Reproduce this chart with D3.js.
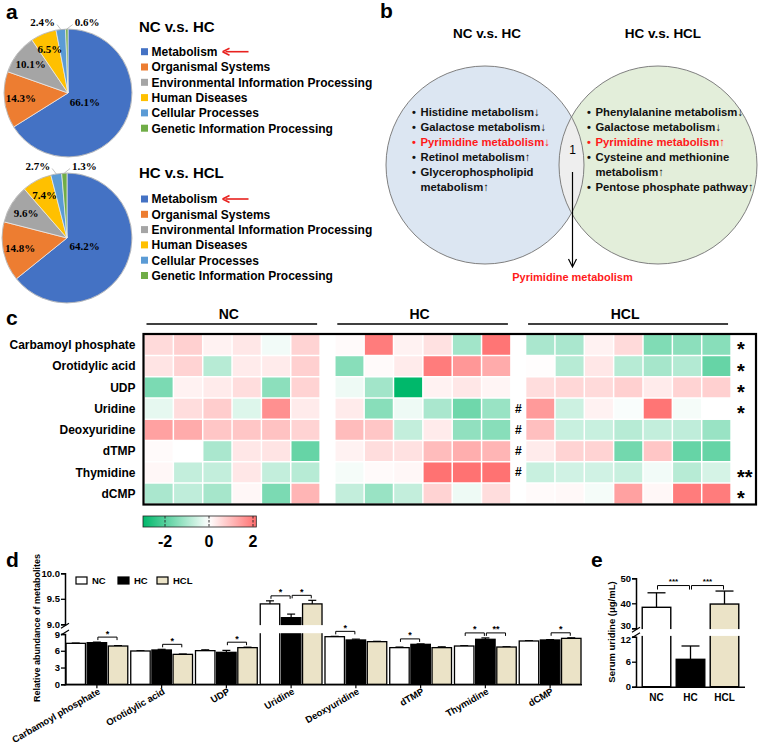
<!DOCTYPE html>
<html><head><meta charset="utf-8">
<script src="https://cdn.jsdelivr.net/npm/d3@7"></script>
<style>
body{margin:0;background:#fff;}
svg{display:block;font-family:Arial,"Liberation Sans",sans-serif;}
</style></head><body>
<svg id="chart" width="763" height="750"></svg>
<script>
// ---------------- DATA ----------------
const pieCategories = ["Metabolism","Organismal Systems","Environmental Information Processing","Human Diseases","Cellular Processes","Genetic Information Processing"];
const pieColors = ["#4472c4","#ed7d31","#a5a5a5","#ffc000","#5b9bd5","#70ad47"];
const pieNCvsHC = [66.1,14.3,10.1,6.5,2.4,0.6];
const pieHCvsHCL = [64.2,14.8,9.6,7.4,2.7,1.3];
const pieTitles = ["NC v.s. HC","HC v.s. HCL"];

const vennTitles = ["NC v.s. HC","HC v.s. HCL"];
const vennLeftLines = [["Histidine metabolism↓",true,false],["Galactose metabolism↓",true,false],["Pyrimidine metabolism↓",true,true],["Retinol metabolism↑",true,false],["Glycerophospholipid",true,false],["metabolism↑",false,false]];
const vennRightLines = [["Phenylalanine metabolism↓",true,false],["Galactose metabolism↓",true,false],["Pyrimidine metabolism↑",true,true],["Cysteine and methionine",true,false],["metabolism↑",false,false],["Pentose phosphate pathway↑",true,false]];
const vennShared = "1";
const vennSharedName = "Pyrimidine metabolism";

const heatRows = ["Carbamoyl phosphate","Orotidylic acid","UDP","Uridine","Deoxyuridine","dTMP","Thymidine","dCMP"];
const heatGroups = ["NC","HC","HCL"];
const heatNC = [
 [0.55,0.7,0.2,0.35,-0.15,0.65],
 [0.4,0.65,-0.85,0.3,0.3,0.7],
 [-1.55,0.2,0.3,0.5,-1.35,0.65],
 [-0.3,0.5,0.75,-0.4,1.65,0.3],
 [1.4,1.25,0.85,0.85,0.9,0.65],
 [0.07,0,-1.0,0.35,0.4,-1.8],
 [0.12,-0.7,-0.7,0.35,-0.7,-0.85],
 [-1.0,-0.75,-1.05,0.12,-1.55,1.1]
];
const heatHC = [
 [0.07,1.95,0.2,0.45,-1.1,2.05],
 [-1.4,0.07,0.3,1.95,1.55,1.25],
 [-0.2,-1.1,-3.0,0.2,0.35,0.15],
 [0.3,-1.4,-0.2,-1.0,-1.7,-1.2],
 [1.0,0.85,-0.7,0.3,-1.3,-1.4],
 [0.2,0.5,0.45,1.0,1.2,1.1],
 [-0.12,0.07,0.12,2.1,2.1,2.1],
 [-0.7,-1.2,-0.7,0.65,-0.2,0.5]
];
const heatHCL = [
 [-1.0,-1.0,0.2,0.55,-1.5,-1.35,-1.4],
 [0.03,-0.85,0.35,-0.85,-1.05,-0.9,-1.8],
 [0.5,0.6,0.55,0.7,0.3,0.65,0.7],
 [1.5,-0.6,0.2,-0.07,2.05,-0.12,0],
 [0.95,-0.65,-0.65,-0.85,-0.7,-0.75,-1.2],
 [0.3,0.65,0.65,-1.65,0.85,-1.8,-1.8],
 [-0.65,-0.55,-0.55,-0.65,-0.15,-0.85,-0.5],
 [0.07,0.1,-0.12,1.4,0.12,1.95,1.95]
];
const heatHash = ["","","","#","#","#","#",""];
const heatStars = ["*","*","*","*","","","**","*"];
const colorTicks = [-2,0,2];

const barMetabolites = ["Carbamoyl phosphate","Orotidylic acid","UDP","Uridine","Deoxyuridine","dTMP","Thymidine","dCMP"];
const barGroups = ["NC","HC","HCL"];
const barNC  = [7.33,5.96,6.02,9.40,8.52,6.56,6.85,7.75];
const barHC  = [7.45,6.14,5.72,9.13,7.93,7.15,8.05,7.93];
const barHCL = [6.85,5.36,6.56,9.40,7.63,6.56,6.67,8.22];
const errNC  = [0.05,0.05,0.15,0.06,0.06,0.10,0.06,0.06];
const errHC  = [0.10,0.12,0.35,0.07,0.15,0.08,0.25,0.07];
const errHCL = [0.08,0.06,0.08,0.07,0.06,0.15,0.05,0.10];
const barSig = [
 ["Carbamoyl phosphate","HC","HCL","*"],
 ["Orotidylic acid","HC","HCL","*"],
 ["UDP","HC","HCL","*"],
 ["Uridine","NC","HC","*"],
 ["Uridine","HC","HCL","*"],
 ["Deoxyuridine","NC","HC","*"],
 ["dTMP","NC","HC","*"],
 ["Thymidine","NC","HC","*"],
 ["Thymidine","HC","HCL","**"],
 ["dCMP","HC","HCL","*"]
];
const barTicksLow = [0,3,6,9];
const barTicksHigh = [9.0,9.5,10.0];

const serumGroups = ["NC","HC","HCL"];
const serumMeans = [38.4,6.57,39.7];
const serumErr = [5.8,3.2,5.2];
const serumSig = [["NC","HC","***"],["HC","HCL","***"]];
const serumTicksLow = [0,6,12];
const serumTicksHigh = [30,40,50];

const groupFill = {NC:"#ffffff", HC:"#000000", HCL:"#ebe3c7"};

// ---------------- DRAW ----------------
const svg = d3.select("#chart");
const SERIF = '"Times New Roman","Liberation Serif",serif';
const SANS = 'Arial,"Liberation Sans",sans-serif';

svg.append("rect").attr("width",763).attr("height",750).attr("fill","#fff");

function panelLabel(t,x,y){
  svg.append("text").attr("x",x).attr("y",y).attr("font-size",21).attr("font-weight","bold").text(t);
}
panelLabel("a",6,19); panelLabel("b",380,18); panelLabel("c",6,325); panelLabel("d",6,567); panelLabel("e",591,567);

// ---- Panel a: pies ----
function drawPie(values, cx, cy, r, title, titleY, legY0){
  const arcs = d3.pie().sort(null).value(d=>d)(values);
  const arc = d3.arc().innerRadius(0).outerRadius(r);
  const g = svg.append("g").attr("transform",`translate(${cx},${cy})`);
  g.selectAll("path").data(arcs).join("path")
    .attr("d",arc).attr("fill",(d,i)=>pieColors[i])
    .attr("stroke","#eeeeee").attr("stroke-width",0.7);
  g.append("circle").attr("r",r).attr("fill","none").attr("stroke","#a0a0a0").attr("stroke-width",0.6);
  arcs.forEach((a,i)=>{
    const mid=(a.startAngle+a.endAngle)/2;
    const v=a.data, lab=v.toFixed(1)+"%";
    if(v>=4){
      const rr = v>50 ? 0.3*r : 0.74*r;
      g.append("text").attr("x",Math.sin(mid)*rr).attr("y",-Math.cos(mid)*rr).attr("dy","0.35em")
        .attr("text-anchor","middle").attr("font-family",SERIF).attr("font-weight","bold").attr("font-size",11).text(lab);
    } else {
      const last = i===arcs.length-1;
      const px=Math.sin(mid)*r, py=-Math.cos(mid)*r;
      const tx=Math.sin(mid)*r*1.1 + (last?8:-5), ty=-r*1.1;
      g.append("polyline").attr("points",`${px},${py} ${tx+(last?-2:2)},${ty+2}`)
        .attr("fill","none").attr("stroke","#a6a6a6").attr("stroke-width",0.7);
      g.append("text").attr("x",tx).attr("y",ty).attr("dy","0.35em")
        .attr("text-anchor",last?"start":"end").attr("font-family",SERIF).attr("font-weight","bold").attr("font-size",11).text(lab);
    }
  });
  svg.append("text").attr("x",139).attr("y",titleY).attr("font-size",15).attr("font-weight","bold").text(title);
  const lg = svg.append("g");
  pieCategories.forEach((c,i)=>{
    const y = legY0 + i*15.3;
    lg.append("rect").attr("x",141).attr("y",y-3.5).attr("width",7).attr("height",7).attr("fill",pieColors[i]);
    const t = lg.append("text").attr("x",151.5).attr("y",y+4.3).attr("font-size",12).attr("font-weight","bold").text(c);
    if(i===0){
      const end = 151.5 + t.node().getComputedTextLength();
      const ax0 = end+5, ax1 = end+31;
      lg.append("line").attr("x1",ax0+3).attr("x2",ax1).attr("y1",y).attr("y2",y).attr("stroke","#e8221f").attr("stroke-width",1.6);
      lg.append("path").attr("d",`M${ax0},${y} L${ax0+7},${y-3.5} M${ax0},${y} L${ax0+7},${y+3.5}`)
        .attr("stroke","#e8221f").attr("stroke-width",1.6).attr("fill","none");
    }
  });
}
drawPie(pieNCvsHC,68,93,64,pieTitles[0],31.5,51.7);
drawPie(pieHCvsHCL,67,238,65,pieTitles[1],178,199);

// ---- Panel b: venn ----
(function(){
  const L={cx:485,cy:165,r:99}, R={cx:658,cy:165,r:99};
  const defs = svg.append("defs");
  defs.append("clipPath").attr("id","clipL").append("circle").attr("cx",L.cx).attr("cy",L.cy).attr("r",L.r);
  svg.append("circle").attr("cx",L.cx).attr("cy",L.cy).attr("r",L.r).attr("fill","#dce6f2");
  svg.append("circle").attr("cx",R.cx).attr("cy",R.cy).attr("r",R.r).attr("fill","#e3eeda");
  svg.append("circle").attr("cx",R.cx).attr("cy",R.cy).attr("r",R.r).attr("fill","#eeeeee").attr("clip-path","url(#clipL)");
  [L,R].forEach(c=>svg.append("circle").attr("cx",c.cx).attr("cy",c.cy).attr("r",c.r).attr("fill","none").attr("stroke","#7f7f7f").attr("stroke-width",1));
  svg.append("text").attr("x",487).attr("y",38).attr("text-anchor","middle").attr("font-size",13.5).attr("font-weight","bold").text(vennTitles[0]);
  svg.append("text").attr("x",663).attr("y",38).attr("text-anchor","middle").attr("font-size",13.5).attr("font-weight","bold").text(vennTitles[1]);
  function list(lines,bx,tx){
    lines.forEach((ln,i)=>{
      const y = 115.5 + i*15.1;
      const col = ln[2] ? "#ff1a1a" : "#111";
      if(ln[1]) svg.append("text").attr("x",bx).attr("y",y).attr("font-size",11).attr("font-weight","bold").attr("fill",col).text("•");
      svg.append("text").attr("x",tx).attr("y",y).attr("font-size",11.3).attr("font-weight","bold").attr("fill",col).text(ln[0]);
    });
  }
  list(vennLeftLines,412,420.5);
  list(vennRightLines,587,595.5);
  svg.append("text").attr("x",572.5).attr("y",154).attr("text-anchor","middle").attr("font-size",12).text(vennShared);
  svg.append("line").attr("x1",572.5).attr("x2",572.5).attr("y1",172).attr("y2",266).attr("stroke","#000").attr("stroke-width",1.2);
  svg.append("path").attr("d","M568.5,259 L572.5,267 L576.5,259").attr("fill","none").attr("stroke","#000").attr("stroke-width",1.2);
  svg.append("text").attr("x",572.5).attr("y",281).attr("text-anchor","middle").attr("font-size",11).attr("font-weight","bold").attr("fill","#ff1a1a").text(vennSharedName);
})();

// ---- Panel c: heatmap ----
(function(){
  const color = d3.scaleLinear().domain([-3,0,2.2]).range(["#00b86b","#ffffff","#ff6b6b"]);
  const xc = d3.scaleLinear().domain([0,20.85]).range([144,756]);
  const y = d3.scaleBand().domain(heatRows).range([335,503.5]).paddingInner(0.07);
  const groupStart = [0,6.5,13];
  const mats = [heatNC,heatHC,heatHCL];
  const cw = xc(1)-xc(0)-1.5;
  mats.forEach((m,gi)=>{
    const cells=[];
    m.forEach((row,ri)=>row.forEach((v,ci)=>cells.push({r:heatRows[ri],c:ci,v})));
    svg.append("g").selectAll("rect").data(cells).join("rect")
      .attr("x",d=>xc(groupStart[gi]+d.c)+0.75).attr("y",d=>y(d.r))
      .attr("width",cw).attr("height",y.bandwidth()).attr("fill",d=>color(d.v));
    const n = m[0].length;
    const x0 = xc(groupStart[gi])+2.5, x1 = xc(groupStart[gi]+n)-3;
    svg.append("line").attr("x1",x0).attr("x2",x1).attr("y1",324).attr("y2",324).attr("stroke","#000").attr("stroke-width",1.4);
    svg.append("text").attr("x",(x0+x1)/2-3).attr("y",319).attr("text-anchor","middle").attr("font-size",14).attr("font-weight","bold").text(heatGroups[gi]);
  });
  svg.append("rect").attr("x",143.5).attr("y",334).attr("width",612.5).attr("height",170.5)
    .attr("fill","none").attr("stroke","#000").attr("stroke-width",2.2);
  heatRows.forEach((r,i)=>{
    const cy = y(r)+y.bandwidth()/2;
    svg.append("text").attr("x",135.5).attr("y",cy+4.3).attr("text-anchor","end").attr("font-size",12).attr("font-weight","bold").text(r);
    if(heatHash[i]) svg.append("text").attr("x",xc(12.75)).attr("y",cy+4).attr("text-anchor","middle").attr("font-size",12).attr("font-weight","bold").text(heatHash[i]);
    if(heatStars[i]) svg.append("text").attr("x",xc(20.2)).attr("y",cy+11.5).attr("font-size",20).attr("font-weight","bold").text(heatStars[i]);
  });
  // color bar
  const cb = d3.scaleLinear().domain([-3,2.15]).range([143,256.3]);
  const grad = svg.append("defs").append("linearGradient").attr("id","cbgrad");
  d3.range(0,1.0001,0.05).forEach(t=>{
    const v = -3 + t*5.15;
    grad.append("stop").attr("offset",t).attr("stop-color",color(v));
  });
  svg.append("rect").attr("x",cb(-3)).attr("y",516).attr("width",cb(2.15)-cb(-3)).attr("height",11)
    .attr("fill","url(#cbgrad)").attr("stroke","#222").attr("stroke-width",0.8);
  colorTicks.forEach(t=>{
    svg.append("line").attr("x1",cb(t)).attr("x2",cb(t)).attr("y1",516).attr("y2",527).attr("stroke","#222").attr("stroke-width",0.9).attr("stroke-dasharray","2.5,1.5");
    svg.append("text").attr("x",cb(t)).attr("y",547).attr("text-anchor","middle").attr("font-size",16).attr("font-weight","bold").text(t);
  });
})();

// ---- Panel d: grouped bars with broken axis ----
(function(){
  const yLow = d3.scaleLinear().domain([0,9]).range([684.3,634]);
  const yHigh = d3.scaleLinear().domain([9,10]).range([624.3,573.3]);
  const yv = v => v<=9 ? yLow(v) : yHigh(v);
  const x0 = d3.scaleBand().domain(barMetabolites).range([66,581]).paddingInner(0.046);
  const x1 = d3.scaleBand().domain(barGroups).range([0,x0.bandwidth()]).paddingInner(0.08);
  const means = {NC:barNC,HC:barHC,HCL:barHCL}, errs={NC:errNC,HC:errHC,HCL:errHCL};
  const g = svg.append("g");
  barMetabolites.forEach((m,mi)=>{
    barGroups.forEach(gr=>{
      const v = means[gr][mi], e = errs[gr][mi];
      const bx = x0(m)+x1(gr), bw = x1.bandwidth(), cx = bx+bw/2;
      g.append("line").attr("x1",cx).attr("x2",cx).attr("y1",yv(v)).attr("y2",yv(v+e)).attr("stroke","#000").attr("stroke-width",1.2);
      g.append("line").attr("x1",cx-4).attr("x2",cx+4).attr("y1",yv(v+e)).attr("y2",yv(v+e)).attr("stroke","#000").attr("stroke-width",1.2);
      g.append("rect").attr("x",bx).attr("y",yv(v)).attr("width",bw).attr("height",yLow(0)-yv(v))
        .attr("fill",groupFill[gr]).attr("stroke","#000").attr("stroke-width",1.3);
      if(v>9){
        g.append("rect").attr("x",bx-1.5).attr("y",yHigh(9)+0.8).attr("width",bw+3).attr("height",yLow(9)-yHigh(9)-1.6).attr("fill","#fff");
      }
    });
  });
  // significance
  barSig.forEach(s=>{
    const mi = barMetabolites.indexOf(s[0]);
    const top = Math.max(means[s[1]][mi]+errs[s[1]][mi], means[s[2]][mi]+errs[s[2]][mi]);
    const yb = yv(top)-5;
    const xa = x0(s[0])+x1(s[1])+x1.bandwidth()/2, xb = x0(s[0])+x1(s[2])+x1.bandwidth()/2;
    g.append("path").attr("d",`M${xa+1},${yb+3} V${yb} H${xb-1} V${yb+3}`).attr("fill","none").attr("stroke","#000").attr("stroke-width",1);
    g.append("text").attr("x",(xa+xb)/2).attr("y",yb-0.5).attr("text-anchor","middle").attr("font-size",9).attr("font-weight","bold").text(s[3]);
  });
  // axes
  const axL = svg.append("g").attr("transform","translate(65,0)").call(d3.axisLeft(yLow).tickValues(barTicksLow).tickSize(4).tickFormat(d3.format("d")));
  const axH = svg.append("g").attr("transform","translate(65,0)").call(d3.axisLeft(yHigh).tickValues(barTicksHigh).tickSize(4).tickFormat(d3.format(".1f")));
  [axL,axH].forEach(a=>{
    a.select(".domain").attr("stroke-width",1.5);
    a.selectAll(".tick line").attr("stroke-width",1.3);
    a.selectAll("text").attr("font-size",9.5).attr("font-weight","bold").attr("font-family",SANS).attr("x",-5);
  });
  svg.append("path").attr("d",`M61,${yHigh(9)+4} L69,${yHigh(9)-1} M61,${yLow(9)+1} L69,${yLow(9)-4}`).attr("stroke","#000").attr("stroke-width",1.2);
  const axB = svg.append("g").attr("transform",`translate(0,${yLow(0)})`).call(d3.axisBottom(x0).tickSize(4));
  axB.select(".domain").attr("stroke-width",1.5).attr("d",`M64.3,0.5 H582`);
  axB.selectAll(".tick line").attr("stroke-width",1.2);
  axB.selectAll("text").attr("y",0).attr("dy",0).attr("transform","translate(4,9) rotate(-30)")
    .style("text-anchor","end").attr("font-size",9.5).attr("font-weight","bold").attr("font-family",SANS);
  svg.append("text").attr("transform",`translate(40,628) rotate(-90)`).attr("text-anchor","middle").attr("font-size",9).attr("font-weight","bold").text("Relative abundance of metabolites");
  // legend
  const legX = [76,118,157];
  barGroups.forEach((gr,i)=>{
    svg.append("rect").attr("x",legX[i]).attr("y",577).attr("width",11).attr("height",7).attr("fill",groupFill[gr]).attr("stroke","#000").attr("stroke-width",1.2);
    svg.append("text").attr("x",legX[i]+16).attr("y",584).attr("font-size",9.5).attr("font-weight","bold").text(gr);
  });
})();

// ---- Panel e: serum uridine ----
(function(){
  const yLow = d3.scaleLinear().domain([0,12]).range([686.7,636.7]);
  const yHigh = d3.scaleLinear().domain([30,50]).range([628.3,578.3]);
  const yv = v => v<=12 ? yLow(v) : yHigh(v);
  const x = d3.scaleBand().domain(serumGroups).range([639.5,741.5]).paddingInner(0.16).paddingOuter(0.08);
  serumGroups.forEach((gr,i)=>{
    const v=serumMeans[i], e=serumErr[i], bx=x(gr), bw=x.bandwidth(), cx=bx+bw/2;
    svg.append("line").attr("x1",cx).attr("x2",cx).attr("y1",yv(v)).attr("y2",yv(v+e)).attr("stroke","#000").attr("stroke-width",1.3);
    svg.append("line").attr("x1",cx-9).attr("x2",cx+9).attr("y1",yv(v+e)).attr("y2",yv(v+e)).attr("stroke","#000").attr("stroke-width",1.3);
    svg.append("rect").attr("x",bx).attr("y",yv(v)).attr("width",bw).attr("height",yLow(0)-yv(v))
      .attr("fill",groupFill[gr]).attr("stroke","#000").attr("stroke-width",1.4);
    if(v>12) svg.append("rect").attr("x",bx-1.5).attr("y",yHigh(30)+0.8).attr("width",bw+3).attr("height",yLow(12)-yHigh(30)-1.6).attr("fill","#fff");
  });
  const topAll = d3.max(serumMeans.map((m,i)=>m+serumErr[i]));
  const yb = yv(topAll)-5.5;
  serumSig.forEach(s=>{
    const xa=x(s[0])+x.bandwidth()/2, xb=x(s[1])+x.bandwidth()/2;
    svg.append("path").attr("d",`M${xa+1},${yb+4} V${yb} H${xb-1} V${yb+4}`).attr("fill","none").attr("stroke","#000").attr("stroke-width",1);
    svg.append("text").attr("x",(xa+xb)/2).attr("y",yb-1.5).attr("text-anchor","middle").attr("font-size",8).attr("font-weight","bold").text(s[2]);
  });
  const axL = svg.append("g").attr("transform","translate(636,0)").call(d3.axisLeft(yLow).tickValues(serumTicksLow).tickSize(4));
  const axH = svg.append("g").attr("transform","translate(636,0)").call(d3.axisLeft(yHigh).tickValues(serumTicksHigh).tickSize(4));
  [axL,axH].forEach(a=>{
    a.select(".domain").attr("stroke-width",1.5);
    a.selectAll(".tick line").attr("stroke-width",1.3);
    a.selectAll("text").attr("font-size",9.5).attr("font-weight","bold").attr("font-family",SANS).attr("x",-5);
  });
  // keep the stacked "30" / "12" labels apart, as in the original
  axH.selectAll(".tick").filter(d=>d===30).select("text").attr("y",-2.5);
  axL.selectAll(".tick").filter(d=>d===12).select("text").attr("y",2.5);
  svg.append("path").attr("d",`M632,${yHigh(30)+4} L640,${yHigh(30)-1} M632,${yLow(12)+1} L640,${yLow(12)-4}`).attr("stroke","#000").attr("stroke-width",1.2);
  const axB = svg.append("g").attr("transform",`translate(0,${yLow(0)})`).call(d3.axisBottom(x).tickSize(0));
  axB.select(".domain").attr("stroke-width",1.5).attr("d","M635.3,0.5 H745");
  axB.selectAll("text").attr("y",7).attr("font-size",10).attr("font-weight","bold").attr("font-family",SANS);
  svg.append("text").attr("transform","translate(615,632) rotate(-90)").attr("text-anchor","middle").attr("font-size",9.5).attr("font-weight","bold").text("Serum uridine (μg/mL)");
})();
</script>
</body></html>
